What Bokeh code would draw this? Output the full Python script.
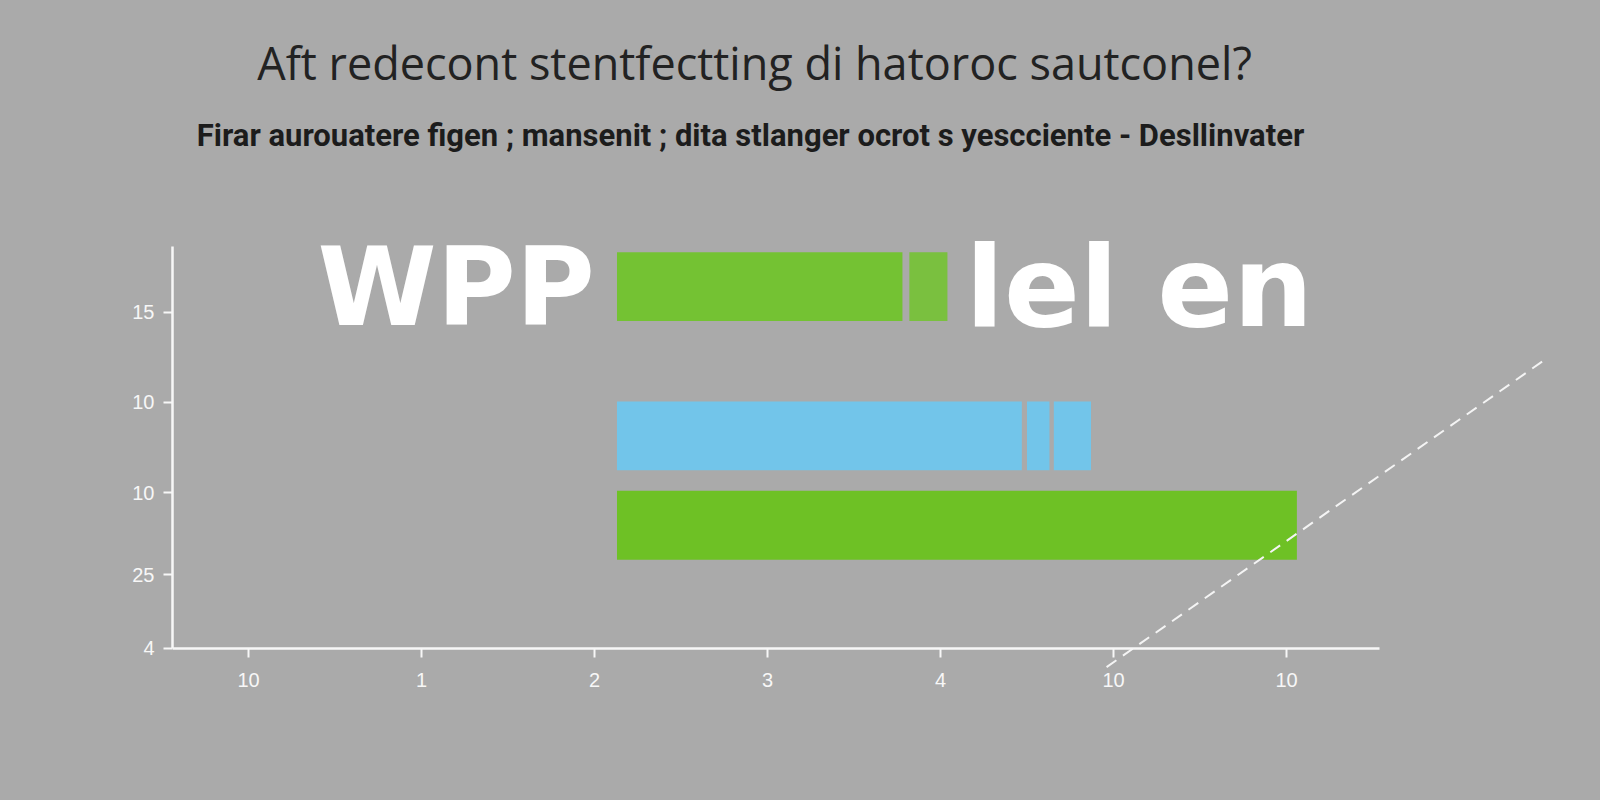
from bokeh.plotting import figure
from bokeh.models import ColumnDataSource, Label, FixedTicker, Range1d
from bokeh.embed import file_html
from bokeh.resources import INLINE

# ---- data ----
title_text = "Aft redecont stentfectting di hatoroc sautconel?"
subtitle_text = "Firar aurouatere figen ; mansenit ; dita stlanger ocrot s yescciente - Desllinvater"
left_word = "WPP"
right_word = "lel en"

x_tick_pos = [0, 1, 2, 3, 4, 5, 6]
x_tick_labels = ["10", "1", "2", "3", "4", "10", "10"]
y_tick_pos = [0.1, 1, 2, 3.1, 4.2]
y_tick_labels = ["4", "25", "10", "10", "15"]

row_pos = [4.51, 2.69, 1.60]          # centre of each bar row
seg_row = [0, 0, 1, 1, 1, 2]          # row of each bar segment
seg_left = [2.13, 3.82, 2.13, 4.50, 4.655, 2.13]
seg_right = [3.78, 4.04, 4.47, 4.63, 4.87, 6.06]

trend_x = [4.96, 7.48]
trend_y = [-0.13, 3.60]

# ---- layout helpers (canvas pixel -> data) ----
def dx(px):
    return (px - 248) / 173.0

def dy(py):
    return (656 - py) / 82.0

BG = "#aaaaaa"
row_colors = ["#74c233", "#72c5ea", "#6ec125"]

p = figure(width=1600, height=800, output_backend="svg", toolbar_location=None,
           x_range=Range1d(dx(172), dx(1600)), y_range=Range1d(dy(700), dy(0)),
           min_border_left=172, min_border_right=0, min_border_top=0, min_border_bottom=100)

p.styles = {"background-color": BG}
p.background_fill_color = BG
p.border_fill_color = None
p.outline_line_color = None
p.xgrid.visible = False
p.ygrid.visible = False

src = ColumnDataSource(dict(
    y=[row_pos[r] for r in seg_row],
    left=seg_left,
    right=seg_right,
    color=[row_colors[r] for r in seg_row],
    alpha=[1.0, 0.9, 1.0, 1.0, 1.0, 1.0],
))
p.hbar(y="y", left="left", right="right", height=0.84, fill_color="color",
       fill_alpha="alpha", line_color=None, source=src)

p.line(trend_x, trend_y, line_color="#f4f4f4", line_width=2, line_dash="12 8")

# axes
p.xaxis.fixed_location = 0.1
p.xaxis.bounds = (dx(172), dx(1379))
p.yaxis.bounds = (0.1, 5.0)
p.xaxis.ticker = FixedTicker(ticks=x_tick_pos)
p.yaxis.ticker = FixedTicker(ticks=y_tick_pos)
p.xaxis.major_label_overrides = {t: l for t, l in zip(x_tick_pos, x_tick_labels)}
p.yaxis.major_label_overrides = {t: l for t, l in zip(y_tick_pos, y_tick_labels)}
for ax in (p.xaxis[0], p.yaxis[0]):
    ax.axis_line_color = "#f7f7f7"
    ax.axis_line_width = 2.5
    ax.major_tick_line_color = "#f7f7f7"
    ax.major_tick_line_width = 2
    ax.major_tick_out = 9
    ax.major_tick_in = 0
    ax.minor_tick_line_color = None
    ax.major_label_text_color = "#f7f7f7"
    ax.major_label_text_font = "Liberation Sans"
    ax.major_label_text_font_size = "20px"
p.xaxis.major_label_standoff = 16
p.yaxis.major_label_standoff = 9

# texts
p.add_layout(Label(x=dx(754), y=dy(62), text=title_text, text_align="center",
                   text_baseline="middle", text_font="Open Sans",
                   text_font_size="45px", text_color="#222222"))
p.add_layout(Label(x=dx(750), y=dy(135), text=subtitle_text, text_align="center",
                   text_baseline="middle", text_font="Roboto",
                   text_font_style="bold", text_font_size="31px", text_color="#1c1c1c"))
p.add_layout(Label(x=dx(317), y=dy(287), text=left_word, text_align="left",
                   text_baseline="middle", text_font="DejaVu Sans",
                   text_font_style="bold", text_font_size="108px", text_color="#ffffff"))
p.add_layout(Label(x=dx(965), y=dy(286), text=right_word, text_align="left",
                   text_baseline="middle", text_font="DejaVu Sans",
                   text_font_style="bold", text_font_size="112px", text_color="#ffffff"))

open("out.html", "w").write(file_html(p, INLINE))
